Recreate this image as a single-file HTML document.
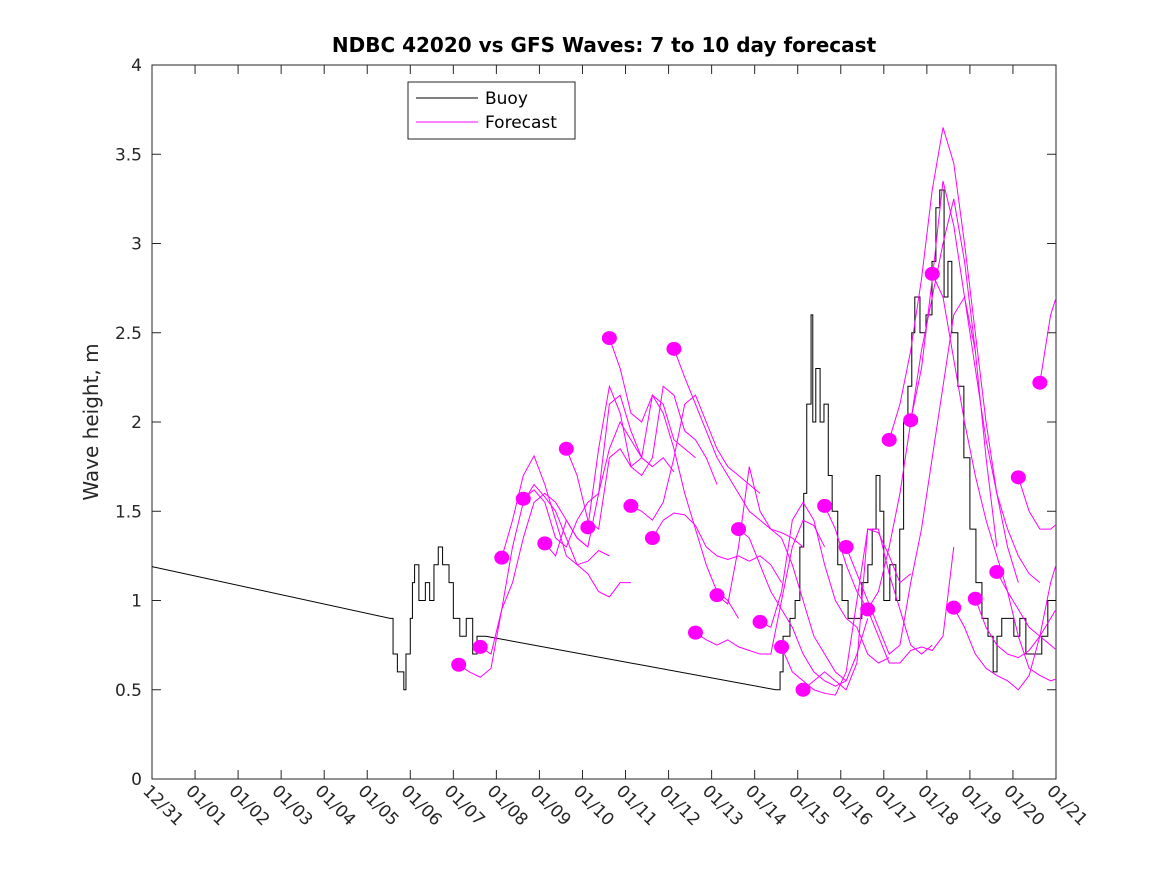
<!DOCTYPE html>
<html><head><meta charset="utf-8"><style>
html,body{margin:0;padding:0;background:#fff;}
svg{display:block;font-family:"DejaVu Sans","Liberation Sans",sans-serif;}
</style></head><body>
<svg id="chart" width="1167" height="875" viewBox="0 0 1167 875" xmlns="http://www.w3.org/2000/svg">
<rect x="0" y="0" width="1167" height="875" fill="#fff"/>
<text x="604" y="52" text-anchor="middle" font-size="20" font-weight="bold" fill="#000">NDBC 42020 vs GFS Waves: 7 to 10 day forecast</text>
<text transform="translate(98,422) rotate(-90)" text-anchor="middle" font-size="20" fill="#262626">Wave height, m</text>
<g id="plot"></g>
<g>
<rect x="408" y="82" width="167" height="57" fill="#fff" stroke="#262626" stroke-width="1"/>
<line x1="416" y1="98" x2="478" y2="98" stroke="#000" stroke-width="1"/>
<text x="485" y="104" font-size="17" fill="#000">Buoy</text>
<line x1="416" y1="122" x2="478" y2="122" stroke="#ff00ff" stroke-width="1"/>
<text x="485" y="128" font-size="17" fill="#000">Forecast</text>
</g>
</svg>
<script>
const xLabels=["12/31","01/01","01/02","01/03","01/04","01/05","01/06","01/07","01/08","01/09","01/10","01/11","01/12","01/13","01/14","01/15","01/16","01/17","01/18","01/19","01/20","01/21"];
const yTicks=[0,0.5,1,1.5,2,2.5,3,3.5,4];
const yTickLabels=["0","0.5","1","1.5","2","2.5","3","3.5","4"];
const buoyDays=[0,5.53,5.6,5.7,5.85,5.9,6.0,6.05,6.1,6.2,6.35,6.45,6.55,6.65,6.75,6.9,7.0,7.15,7.3,7.45,7.55,7.75,14.49,14.59,14.66,14.82,14.94,15.05,15.14,15.21,15.31,15.35,15.42,15.52,15.61,15.71,15.80,15.93,16.03,16.17,16.35,16.49,16.63,16.73,16.82,16.91,17.00,17.14,17.28,17.37,17.46,17.56,17.65,17.72,17.84,17.98,18.12,18.21,18.30,18.40,18.49,18.58,18.72,18.86,19.00,19.14,19.28,19.42,19.54,19.63,19.74,19.88,20.02,20.16,20.30,20.53,20.67,20.81,21.0];
const buoyValues=[1.19,0.9,0.7,0.6,0.5,0.7,0.9,1.1,1.2,1.0,1.1,1.0,1.2,1.3,1.2,1.1,0.9,0.8,0.9,0.7,0.8,0.8,0.5,0.6,0.8,0.9,1.0,1.3,1.6,2.1,2.6,2.0,2.3,2.0,2.1,1.7,1.5,1.2,1.0,0.9,0.9,1.1,1.2,1.4,1.7,1.5,1.0,1.2,1.0,1.4,2.0,2.2,2.5,2.7,2.5,2.6,2.9,3.2,3.3,2.7,2.9,2.5,2.2,1.8,1.4,1.1,0.9,0.8,0.6,0.8,0.9,0.9,0.8,0.9,0.7,0.7,0.8,1.0,1.0];
const fcStart=[7.125,7.625,8.125,8.625,9.125,9.625,10.125,10.625,11.125,11.625,12.125,12.625,13.125,13.625,14.125,14.625,15.125,15.625,16.125,16.625,17.125,17.625,18.125,18.625,19.125,19.625,20.125,20.625];
const fcStep=0.25;
const fc0=[0.64,0.60,0.57,0.62,0.95,1.10,1.35,1.55,1.60,1.55,1.45,1.35,1.30];
const fc1=[0.74,0.70,0.95,1.30,1.55,1.65,1.58,1.50,1.35,1.20,1.22,1.28,1.25];
const fc2=[1.24,1.45,1.70,1.81,1.65,1.45,1.25,1.20,1.15,1.05,1.02,1.10,1.10];
const fc3=[1.57,1.62,1.55,1.35,1.30,1.45,1.55,1.60,1.85,2.00,1.90,1.80,1.75];
const fc4=[1.32,1.25,1.45,1.35,1.30,1.60,2.10,2.15,1.95,1.80,1.75,1.80,1.72];
const fc5=[1.85,1.70,1.45,1.40,1.80,1.85,1.75,1.80,2.15,2.10,1.90,1.85,1.80];
const fc6=[1.41,1.85,2.20,2.05,1.75,1.70,1.80,2.20,2.15,1.95,1.90,1.80,1.65];
const fc7=[2.47,2.30,2.05,2.00,2.15,2.05,1.85,1.60,1.40,1.20,1.05,1.00,0.90];
const fc8=[1.53,1.50,1.45,1.55,1.80,2.10,2.15,2.00,1.85,1.75,1.70,1.65,1.60];
const fc9=[1.35,1.45,1.49,1.48,1.42,1.30,1.25,1.23,1.25,1.22,1.25,1.20,1.10];
const fc10=[2.41,2.25,2.10,1.95,1.80,1.70,1.60,1.50,1.45,1.40,1.38,1.35,1.30];
const fc11=[0.82,0.78,0.75,0.78,0.74,0.72,0.70,0.70,1.00,1.30,1.45,1.42,1.30];
const fc12=[1.03,0.98,1.30,1.75,1.50,1.40,1.35,1.20,1.00,0.80,0.70,0.60,0.55];
const fc13=[1.40,1.35,1.20,1.05,0.95,0.85,0.70,0.60,0.55,0.52,0.55,0.70,0.90];
const fc14=[0.88,0.85,1.05,1.45,1.55,1.45,1.20,1.00,0.90,0.85,0.70,0.65,0.68];
const fc15=[0.74,0.60,0.55,0.50,0.48,0.47,0.60,1.00,1.40,1.38,1.25,1.10,1.15];
const fc16=[0.50,0.55,0.60,0.55,0.50,0.65,1.40,1.40,1.15,0.95,0.75,0.70,0.75];
const fc17=[1.53,1.40,1.20,1.05,0.95,0.80,0.65,0.65,0.72,0.74,0.72,0.80,1.30];
const fc18=[1.30,1.15,1.00,0.85,0.70,0.75,1.10,1.40,1.80,2.20,2.60,2.70,2.40];
const fc19=[0.95,1.05,1.30,1.60,2.00,2.40,2.70,3.00,3.25,2.90,2.40,1.80,1.30];
const fc20=[1.90,2.10,2.40,2.80,3.30,3.65,3.45,3.00,2.50,2.00,1.60,1.30,1.10];
const fc21=[2.01,2.30,2.80,3.35,3.10,2.70,2.30,1.90,1.60,1.40,1.25,1.15,1.10];
const fc22=[2.83,2.70,2.35,2.00,1.70,1.45,1.25,1.05,0.80,0.62,0.58,0.55,0.57];
const fc23=[0.96,0.85,0.70,0.62,0.58,0.55,0.50,0.58,0.80,1.10,1.30,1.50,1.55];
const fc24=[1.01,0.85,0.75,0.70,0.68,0.72,0.80,0.90,1.00,1.10,1.12,1.10];
const fc25=[1.16,1.05,0.95,0.85,0.80,0.75,0.70,0.68,0.65,0.60,0.58];
const fc26=[1.69,1.50,1.40,1.40,1.45];
const fc27=[2.22,2.60,2.79,2.79];
const fcSeries=[fc0,fc1,fc2,fc3,fc4,fc5,fc6,fc7,fc8,fc9,fc10,fc11,fc12,fc13,fc14,fc15,fc16,fc17,fc18,fc19,fc20,fc21,fc22,fc23,fc24,fc25,fc26,fc27];

const L=152,R=1056,T=65,B=779,NS="http://www.w3.org/2000/svg";
const xDomain=[0,21],yDomain=[0,4];
function sx(d){return L+(d-xDomain[0])/(xDomain[1]-xDomain[0])*(R-L);}
function sy(v){return B-(v-yDomain[0])/(yDomain[1]-yDomain[0])*(B-T);}
const plot=document.getElementById('plot');
function mk(tag,attrs,parent){const e=document.createElementNS(NS,tag);for(const k in attrs)e.setAttribute(k,attrs[k]);(parent||plot).appendChild(e);return e;}

const defs=mk('defs',{});
const cp=mk('clipPath',{id:'clip'},defs);
mk('rect',{x:L,y:T,width:R-L,height:B-T},cp);

const frame=mk('rect',{x:L,y:T,width:R-L,height:B-T,fill:'none',stroke:'#262626','stroke-width':1});



yTicks.forEach((v,i)=>{
  const y=sy(v);
  mk('line',{x1:L,y1:y,x2:L+9,y2:y,stroke:'#262626'});
  mk('line',{x1:R,y1:y,x2:R-9,y2:y,stroke:'#262626'});
  const t=mk('text',{x:L-10,y:y+6,'text-anchor':'end','font-size':17,fill:'#262626'});
  t.textContent=yTickLabels[i];
  
  
});
xLabels.forEach((lab,i)=>{
  const x=sx(i);
  mk('line',{x1:x,y1:B,x2:x,y2:B-9,stroke:'#262626'});
  mk('line',{x1:x,y1:T,x2:x,y2:T+9,stroke:'#262626'});
  const t=mk('text',{x:0,y:0,transform:`translate(${x-10},${B+13}) rotate(45)`,'font-size':17,fill:'#262626'});
  t.textContent=lab;
  
  
});

const g=mk('g',{'clip-path':'url(#clip)'});
let d='';
for(let i=0;i<buoyDays.length;i++){
  const x=sx(buoyDays[i]),y=sy(buoyValues[i]);
  if(i===0){d+=`M${x},${y}`;continue;}
  const gap=buoyDays[i]-buoyDays[i-1]>1||i===1;
  if(gap) d+=` L${x},${y}`;
  else d+=` L${x},${sy(buoyValues[i-1])} L${x},${y}`;
}
const bp=mk('path',{d:d,fill:'none',stroke:'#000','stroke-width':1},g);



fcSeries.forEach((s,k)=>{
  const pts=s.map((v,j)=>`${sx(fcStart[k]+j*fcStep)},${sy(v)}`).join(' ');
  const pl=mk('polyline',{points:pts,fill:'none',stroke:'#ff00ff','stroke-width':1},g);
  
  
});
fcSeries.forEach((s,k)=>{
  const c=mk('ellipse',{cx:sx(fcStart[k]),cy:sy(s[0]),rx:7.5,ry:7,fill:'#ff00ff'});
  
  
});
</script>
</body></html>
